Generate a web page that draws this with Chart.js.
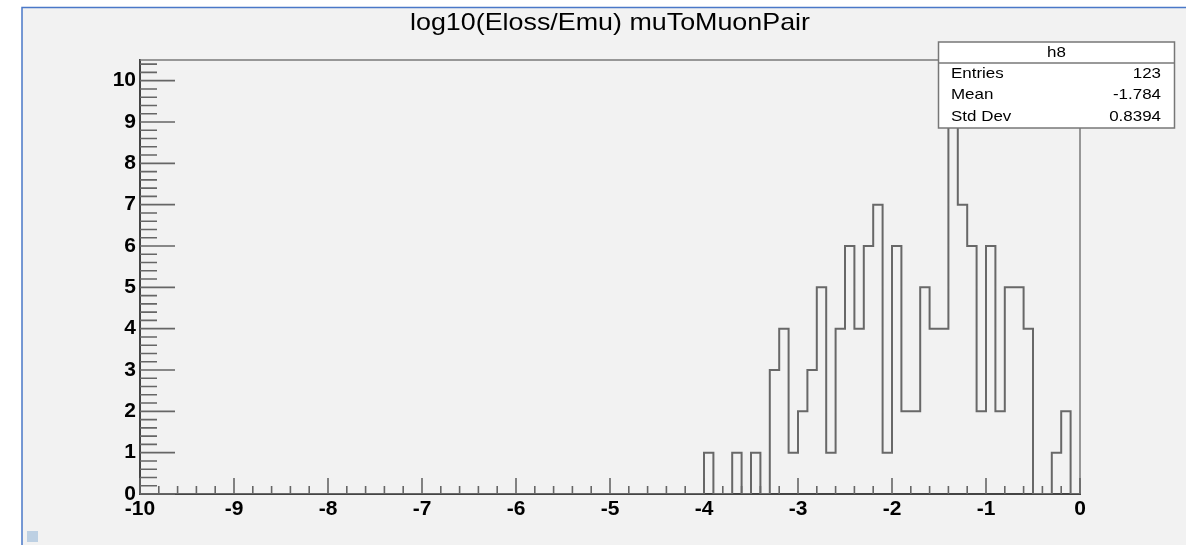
<!DOCTYPE html>
<html>
<head>
<meta charset="utf-8">
<script src="https://cdn.jsdelivr.net/npm/chart.js@4"></script>
<style>
  html, body { margin: 0; padding: 0; background: #ffffff; }
  #wrap { width: 1186px; height: 545px; }
</style>
</head>
<body>
<div id="wrap"><canvas id="c" width="1186" height="545"></canvas></div>
<script>
// ---- Data ----
const titleText = "log10(Eloss/Emu) muToMuonPair";
const histName = "h8";
const xMin = -10;
const xMax = 0;
const binWidth = 0.1;
// 100 bin contents, from -10.0 to 0.0
const counts = [
  0, 0, 0, 0, 0, 0, 0, 0, 0, 0,   // -10.0 .. -9.1
  0, 0, 0, 0, 0, 0, 0, 0, 0, 0,   // -9.0 .. -8.1
  0, 0, 0, 0, 0, 0, 0, 0, 0, 0,   // -8.0 .. -7.1
  0, 0, 0, 0, 0, 0, 0, 0, 0, 0,   // -7.0 .. -6.1
  0, 0, 0, 0, 0, 0, 0, 0, 0, 0,   // -6.0 .. -5.1
  0, 0, 0, 0, 0, 0, 0, 0, 0, 0,   // -5.0 .. -4.1
  1, 0, 0, 1, 0, 1, 0, 3, 4, 1,   // -4.0 .. -3.1
  2, 3, 5, 1, 4, 6, 4, 6, 7, 1,   // -3.0 .. -2.1
  6, 2, 2, 5, 4, 4, 10, 7, 6, 2,  // -2.0 .. -1.1
  6, 2, 5, 5, 4, 0, 0, 1, 2, 0    // -1.0 .. -0.1
];
const xTickLabels = ["-10", "-9", "-8", "-7", "-6", "-5", "-4", "-3", "-2", "-1", "0"];
const yTickLabels = ["0", "1", "2", "3", "4", "5", "6", "7", "8", "9", "10"];
const yMax = 10.5;
const statsLabels = ["Entries", "Mean", "Std Dev"];
const statsValues = ["123", "-1.784", "0.8394"];

// ---- Build step-outline points from the bin arrays ----
const points = counts.map((c, i) => ({ x: xMin + i * binWidth, y: c }));
points.push({ x: xMax, y: counts[counts.length - 1] });

const FONT = "'Liberation Sans', Arial, Helvetica, sans-serif";

const backgroundPlugin = {
  id: 'rootBackground',
  beforeDraw(chart) {
    const ctx = chart.ctx;
    ctx.save();
    ctx.fillStyle = '#ffffff';
    ctx.fillRect(0, 0, chart.width, chart.height);
    ctx.fillStyle = '#f2f2f2';
    ctx.fillRect(22, 7, chart.width - 22, chart.height - 7);
    // blue selection border
    ctx.strokeStyle = '#4a78c8';
    ctx.lineWidth = 1.5;
    ctx.beginPath();
    ctx.moveTo(22, chart.height);
    ctx.lineTo(22, 7.5);
    ctx.lineTo(chart.width, 7.5);
    ctx.stroke();
    // small marker bottom-left
    ctx.fillStyle = '#bdd0e3';
    ctx.fillRect(27, 531, 11, 11);
    ctx.restore();
  }
};

const rootDecor = {
  id: 'rootDecor',
  afterDraw(chart) {
    const ctx = chart.ctx;
    const xs = chart.scales.x, ys = chart.scales.y;
    const a = chart.chartArea;
    ctx.save();
    // frame top & right
    ctx.strokeStyle = '#7a7a7a';
    ctx.lineWidth = 1.5;
    ctx.beginPath();
    ctx.moveTo(a.left, a.top);
    ctx.lineTo(a.right, a.top);
    ctx.lineTo(a.right, a.bottom);
    ctx.stroke();

    // ticks (inward)
    ctx.strokeStyle = '#666666';
    ctx.lineWidth = 1.6;
    ctx.beginPath();
    for (let k = 0; k <= 50; k++) {
      const v = xMin + k * 0.2;
      const px = xs.getPixelForValue(v);
      const len = (k % 5 === 0) ? 16 : 8;
      ctx.moveTo(px, a.bottom);
      ctx.lineTo(px, a.bottom - len);
    }
    for (let k = 0; k <= 52; k++) {
      const v = k * 0.2;
      const py = ys.getPixelForValue(v);
      const len = (k % 5 === 0) ? 35 : 17;
      ctx.moveTo(a.left, py);
      ctx.lineTo(a.left + len, py);
    }
    ctx.stroke();

    // title
    ctx.fillStyle = '#000000';
    ctx.font = '24px ' + FONT;
    ctx.textAlign = 'center';
    ctx.textBaseline = 'alphabetic';
    const tw = ctx.measureText(titleText).width;
    const sx = 400 / tw;
    ctx.save();
    ctx.translate((a.left + a.right) / 2, 30);
    ctx.scale(sx, 1);
    ctx.fillText(titleText, 0, 0);
    ctx.restore();

    // stats box
    const bx = 938.5, by = 42, bw = 236, bh = 86, hh = 21;
    ctx.fillStyle = '#ffffff';
    ctx.fillRect(bx, by, bw, bh);
    ctx.strokeStyle = '#777777';
    ctx.lineWidth = 1.5;
    ctx.strokeRect(bx, by, bw, bh);
    ctx.beginPath();
    ctx.moveTo(bx, by + hh);
    ctx.lineTo(bx + bw, by + hh);
    ctx.stroke();
    ctx.fillStyle = '#000000';
    ctx.font = '15px ' + FONT;
    const ssx = 1.13;
    const drawText = (txt, x, y, align) => {
      ctx.save();
      ctx.translate(x, y);
      ctx.scale(ssx, 1);
      ctx.textAlign = align;
      ctx.fillText(txt, 0, 0);
      ctx.restore();
    };
    drawText(histName, bx + bw / 2, 57, 'center');
    const rowsY = [77.5, 99, 121];
    for (let i = 0; i < statsLabels.length; i++) {
      drawText(statsLabels[i], 951, rowsY[i], 'left');
      drawText(statsValues[i], 1161, rowsY[i], 'right');
    }
    ctx.restore();
  }
};

new Chart(document.getElementById('c'), {
  type: 'line',
  data: {
    datasets: [{
      data: points,
      stepped: true,
      borderColor: '#686868',
      borderWidth: 2,
      pointRadius: 0,
      fill: false,
      tension: 0
    }]
  },
  options: {
    responsive: false,
    maintainAspectRatio: false,
    devicePixelRatio: 1,
    animation: false,
    layout: { padding: { left: 0, top: 60, right: 106, bottom: 0 } },
    plugins: {
      legend: { display: false },
      tooltip: { enabled: false },
      title: { display: false }
    },
    scales: {
      x: {
        type: 'linear',
        min: xMin,
        max: xMax,
        afterBuildTicks: (s) => { s.ticks = xTickLabels.map(t => ({ value: Number(t) })); },
        ticks: {
          autoSkip: false,
          maxRotation: 0,
          padding: 3,
          color: '#000000',
          font: { family: FONT, size: 21, weight: 'bold' },
          callback: (v) => xTickLabels.find(t => Number(t) === v) || ''
        },
        grid: { display: false, drawTicks: false },
        border: { display: true, color: '#444444', width: 2 },
        afterFit: (s) => { s.height = 51; }
      },
      y: {
        type: 'linear',
        min: 0,
        max: yMax,
        afterBuildTicks: (s) => { s.ticks = yTickLabels.map(t => ({ value: Number(t) })); },
        ticks: {
          autoSkip: false,
          padding: 4,
          color: '#000000',
          font: { family: FONT, size: 21, weight: 'bold' },
          callback: (v) => yTickLabels.find(t => Number(t) === v) || ''
        },
        grid: { display: false, drawTicks: false },
        border: { display: true, color: '#444444', width: 2 },
        afterFit: (s) => { s.width = 140; }
      }
    }
  },
  plugins: [backgroundPlugin, rootDecor]
});
</script>
</body>
</html>
